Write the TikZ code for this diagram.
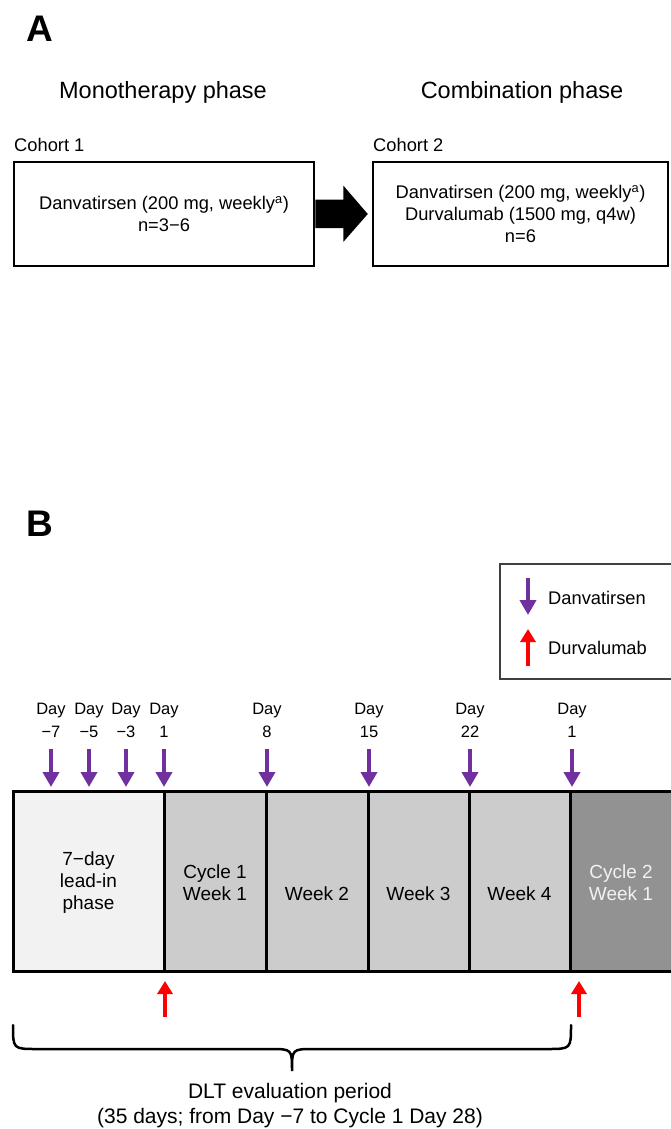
\documentclass[tikz,border=0pt]{standalone}
\usepackage{fontspec}
\setmainfont{Liberation Sans}
\usepackage{tikz}
\usetikzlibrary{calc, arrows.meta}

\definecolor{danva}{HTML}{7030A0}
\definecolor{durva}{HTML}{FF0000}
\definecolor{leadgray}{HTML}{F2F2F2}
\definecolor{weekgray}{HTML}{CCCCCC}
\definecolor{cyclegray}{HTML}{929292}

\begin{document}
\begin{tikzpicture}[
    x = 1pt, y = -1pt,
    every node/.style = {inner sep = 0pt, align = center},
    panel/.style = {font = \fontsize{37}{40}\selectfont\bfseries},
    phase/.style = {font = \fontsize{23.5}{28}\selectfont},
    body/.style = {font = \fontsize{18.3}{22}\selectfont},
    daylabel/.style = {font = \fontsize{16.5}{23}\selectfont},
    bartext/.style = {font = \fontsize{19}{22}\selectfont},
    dlttext/.style = {font = \fontsize{21}{25}\selectfont},
    cohortbox/.style = {draw, line width = 2.5pt, minimum height = 104pt, body},
    segment/.style = {draw, line width = 3pt, minimum height = 180pt},
    danvaarrow/.style = {danva, line width = 4pt, -{Triangle[width = 16pt, length = 15pt]}},
    durvaarrow/.style = {durva, line width = 3.5pt, -{Triangle[width = 15pt, length = 13pt]}},
    brace/.style = {line width = 2.5pt, line cap = round}
  ]
  \useasboundingbox (0,0) rectangle (670,1129);

  % Panel A
  \node[panel] (panelA) at (40,29) {A};
  \node[phase] (monohead) at (163,92) {Monotherapy phase};
  \node[phase] (combohead) at (522,92) {Combination phase};
  \node[body, anchor = west] (cohort1) at (14,145) {Cohort 1};
  \node[body, anchor = west] (cohort2) at (373,145) {Cohort 2};

  \node[cohortbox, minimum width = 300pt] (mono) at (164,214)
    {Danvatirsen (200 mg, weekly\textsuperscript{a})\\n=3−6};
  \node[cohortbox, minimum width = 295pt] (combo) at (520.5,214)
    {Danvatirsen (200 mg, weekly\textsuperscript{a})\\Durvalumab (1500 mg, q4w)\\n=6};

  \fill (mono.east) ++(0,-14.5) -- ++(28,0) -- ++(0,-14)
    -- ($(combo.west)+(-4,0)$) -- ($(mono.east)+(28,28)$)
    -- ++(0,-14) -- ++(-28,0) -- cycle;

  % Panel B
  \node[panel] (panelB) at (40,524) {B};

  % Legend
  \node[draw = black!75, line width = 1.5pt, minimum width = 172pt,
    minimum height = 115pt] (legend) at (586,621.5) {};
  \coordinate (legdtop) at (528,578);
  \coordinate (legdtip) at (528,615);
  \draw[danvaarrow] (legdtop) -- (legdtip);
  \node[body, anchor = west] (legdanva) at (548,598) {Danvatirsen};
  \coordinate (legrbase) at (528,666);
  \coordinate (legrtip) at (528,629);
  \draw[durvaarrow] (legrbase) -- (legrtip);
  \node[body, anchor = west] (legdurva) at (548,648) {Durvalumab};

  % Treatment bar
  \foreach \nm/\cx/\w/\col in {lead/88.5/151/leadgray, wkA/215/102/weekgray,
      wkB/317/102/weekgray, wkC/418.5/101/weekgray, wkD/519.5/101/weekgray,
      cycB/621/102/cyclegray}
    \node[segment, fill = \col, minimum width = \w pt] (\nm) at (\cx,881.5) {};

  \node[bartext] (leadtext) at ($(lead.center)+(0,1.5)$) {7−day\\lead-in\\phase};
  \node[bartext] (wkAtext) at ($(wkA.center)+(0,1)$) {Cycle 1\\Week 1};
  \node[bartext] (wkBtext) at ($(wkB.center)+(0,12.5)$) {Week 2};
  \node[bartext] (wkCtext) at ($(wkC.center)+(0,12.5)$) {Week 3};
  \node[bartext] (wkDtext) at ($(wkD.center)+(0,12.5)$) {Week 4};
  \node[bartext, text = leadgray] (cycBtext) at ($(cycB.center)+(0,1)$) {Cycle 2\\Week 1};

  % Danvatirsen doses
  \foreach \cx/\dd [count = \i] in {51/−7, 89/−5, 126/−3, 164/1, 267/8,
      369/15, 470/22, 572/1} {
    \node[daylabel] (day\i) at (\cx,720) {Day\\\dd};
    \coordinate (dtip\i) at (\cx,787);
    \draw[danvaarrow, shorten < = 12pt] (day\i.south) -- (dtip\i);
  }

  % Durvalumab doses
  \foreach \cx [count = \i] in {165, 579} {
    \coordinate (rbase\i) at (\cx,1017);
    \coordinate (rtip\i) at (\cx,981);
    \draw[durvaarrow] (rbase\i) -- (rtip\i);
  }

  % DLT brace
  \coordinate (braceL) at (13,1025);
  \coordinate (braceM) at (292,1071);
  \coordinate (braceR) at (571,1025);
  \draw[brace] (braceL) .. controls (13,1049) .. (37,1049) -- (270,1049)
    .. controls (292,1049) .. (braceM)
    .. controls (292,1049) .. (314,1049) -- (547,1049)
    .. controls (571,1049) .. (braceR);
  \node[dlttext] (dlt) at (290,1105.5)
    {DLT evaluation period\\(35 days; from Day −7 to Cycle 1 Day 28)};

\end{tikzpicture}
\end{document}
